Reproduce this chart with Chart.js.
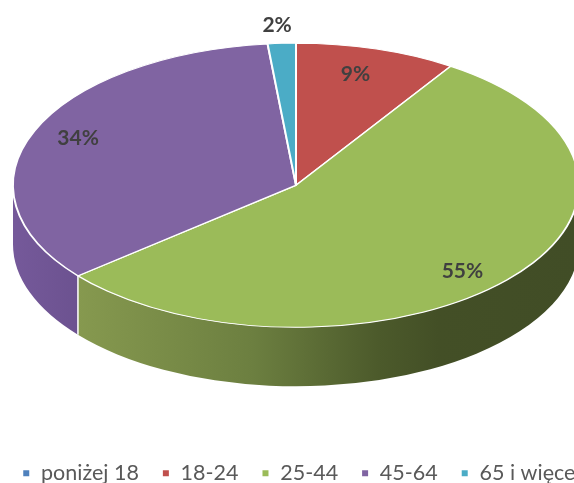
<!DOCTYPE html>
<html>
<head>
<meta charset="utf-8">
<script src="https://cdn.jsdelivr.net/npm/chart.js@4"></script>
<style>
  html, body { margin: 0; height: 100%; background: #fff; overflow: hidden; }
  #chart { position: absolute; left: -24px; top: -69px; filter: blur(0.5px); }
</style>
</head>
<body>
<canvas id="chart" width="640" height="563"></canvas>
<script>
const categories = ['poniżej 18', '18-24', '25-44', '45-64', '65 i więcej'];
const shares = [0, 9.2, 54.8, 34.4, 1.6];
const colors = ['#4F81BD', '#C0504D', '#9BBB59', '#8064A2', '#4BACC6'];
const sideStops = [
  [[0, '#3c5f8a']],
  [[0, '#8c3a38']],
  [[0, '#86994f'], [0.35, '#6c7f40'], [0.6, '#4c5a2b'], [0.72, '#434f26'], [1, '#414d26']],
  [[0, '#75599a'], [1, '#6c5290']],
  [[0, '#367d90']]
];

const radius = 283;
const squash = 0.502;
const depth = 59;
// label place as fraction of radius + small nudge in px
const labelPlace = [null, [0.8, -5, -2], [0.85, -13, 6], [0.84, 2, -2], [1.12, -3, -1]];

function drawSides(chart) {
  const ctx = chart.ctx;
  const arcs = chart.getDatasetMeta(0).data;
  arcs.forEach((arc, i) => {
    const a0 = Math.max(arc.startAngle, 0);
    const a1 = Math.min(arc.endAngle, Math.PI);
    if (a1 <= a0) return;
    const r = arc.outerRadius;
    const ry = r * squash;
    const xa = arc.x + Math.cos(a0) * r;
    const xb = arc.x + Math.cos(a1) * r;
    const grad = ctx.createLinearGradient(xb, 0, xa, 0);
    sideStops[i].forEach(s => grad.addColorStop(s[0], s[1]));
    ctx.save();
    ctx.beginPath();
    ctx.ellipse(arc.x, arc.y, r, ry, 0, a0, a1);
    ctx.ellipse(arc.x, arc.y + depth, r, ry, 0, a1, a0, true);
    ctx.closePath();
    ctx.fillStyle = grad;
    ctx.fill();
    ctx.restore();
  });
  // white seam where two slices meet on the rim
  arcs.forEach(arc => {
    const a = arc.endAngle;
    if (a <= 0 || a >= Math.PI) return;
    const x = arc.x + Math.cos(a) * arc.outerRadius;
    const y = arc.y + Math.sin(a) * arc.outerRadius * squash;
    ctx.save();
    ctx.strokeStyle = '#fff';
    ctx.lineWidth = 1.5;
    ctx.beginPath();
    ctx.moveTo(x, y);
    ctx.lineTo(x, y + depth);
    ctx.stroke();
    ctx.restore();
  });
}

const pie3d = {
  id: 'pie3d',
  afterLayout(chart) {
    chart.legend.left += 23.25;
    chart.legend.right += 23.25;
  },
  beforeDatasetDraw(chart, args) {
    const ctx = chart.ctx;
    drawSides(chart);
    const arc = args.meta.data[0];
    ctx.save();
    ctx.translate(0, arc.y);
    ctx.scale(1, squash);
    ctx.translate(0, -arc.y);
  },
  afterDatasetDraw(chart) {
    chart.ctx.restore();
  },
  afterDatasetsDraw(chart) {
    const ctx = chart.ctx;
    const arcs = chart.getDatasetMeta(0).data;
    ctx.save();
    ctx.font = 'bold 21px Lato';
    ctx.fillStyle = '#404040';
    ctx.textAlign = 'center';
    ctx.textBaseline = 'middle';
    arcs.forEach((arc, i) => {
      if (!labelPlace[i]) return;
      const mid = (arc.startAngle + arc.endAngle) / 2;
      const [f, dx, dy] = labelPlace[i];
      const x = arc.x + Math.cos(mid) * arc.outerRadius * f + dx;
      const y = arc.y + Math.sin(mid) * arc.outerRadius * squash * f + dy;
      ctx.fillText(Math.round(shares[i]) + '%', x, y);
    });
    ctx.restore();
  }
};

new Chart(document.getElementById('chart'), {
  type: 'pie',
  data: {
    labels: categories,
    datasets: [{
      data: shares,
      backgroundColor: colors,
      borderColor: '#fff',
      borderWidth: 2,
      radius: radius,
      clip: false
    }]
  },
  options: {
    responsive: false,
    animation: false,
    plugins: {
      tooltip: { enabled: false },
      legend: {
        position: 'bottom',
        align: 'start',
        labels: {
          boxWidth: 8,
          boxHeight: 8,
          padding: 23,
          color: '#595959',
          font: { family: 'Lato', size: 21.5 }
        }
      }
    }
  },
  plugins: [pie3d]
});
</script>
</body>
</html>
